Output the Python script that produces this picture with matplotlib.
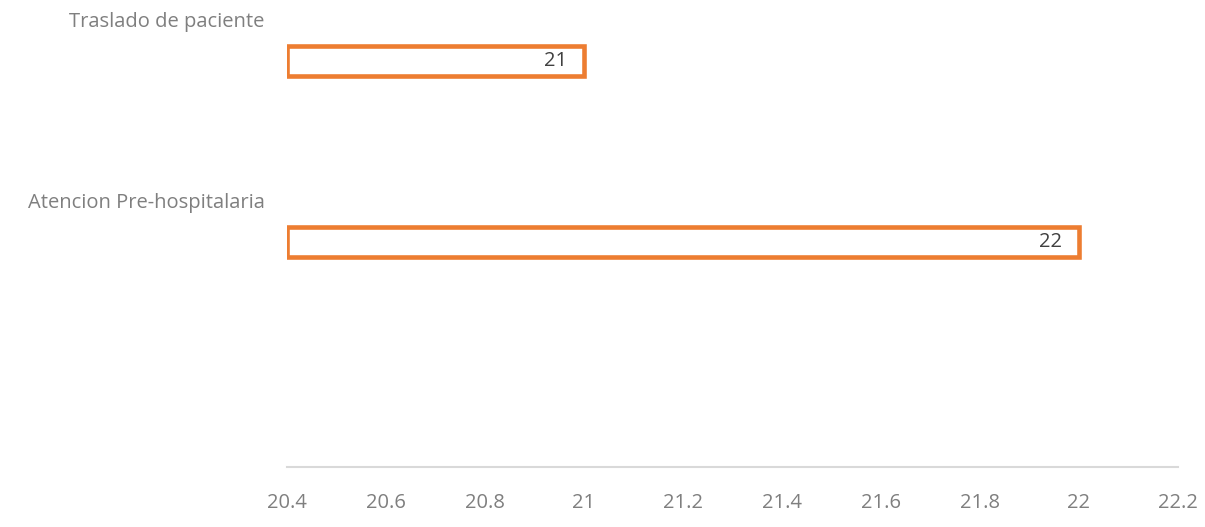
import numpy as np
import matplotlib
matplotlib.use("Agg")
import matplotlib.pyplot as plt
from matplotlib.transforms import blended_transform_factory, offset_copy

categories = ["Traslado de paciente", "Atencion Pre-hospitalaria"]
values = [21, 22]
x_ticks = [20.4, 20.6, 20.8, 21.0, 21.2, 21.4, 21.6, 21.8, 22.0, 22.2]
tick_labels = ["20.4", "20.6", "20.8", "21", "21.2", "21.4", "21.6", "21.8", "22", "22.2"]
x_min, x_max = 20.4, 22.2

plt.rcParams["font.family"] = ["Open Sans", "DejaVu Sans"]
ORANGE = "#ed7d31"
GRAY = "#7f7f7f"
FS = 14.5

W, H, DPI = 1205, 527, 100
fig = plt.figure(figsize=(W / DPI, H / DPI), dpi=DPI)
left, right, bottom, top = 287, 1178, 467, 10      # axes box in pixels
ax = fig.add_axes([left / W, 1 - bottom / H, (right - left) / W, (bottom - top) / H])

y = np.arange(len(categories))
ax.barh(y, np.array(values) - x_min, left=x_min, height=0.163,
        facecolor="white", edgecolor=ORANGE, linewidth=3.3)

ax.set_xlim(x_min, x_max)
ax.set_ylim(2.243, -0.282)

# category labels sit above each bar, right-aligned left of the plot
trans = blended_transform_factory(ax.transAxes, ax.transData)
for yi, name in zip(y, categories):
    ax.text(-0.025, yi - 0.215, name, transform=trans, ha="right", va="center",
            fontsize=FS, color=GRAY)

# value labels inside the bar end
for yi, v in zip(y, values):
    t = offset_copy(ax.transData, fig=fig, x=-17, y=0, units="dots")
    ax.text(v, yi, f"{v:g}", transform=t, ha="right", va="center",
            fontsize=FS, color="#404040")

ax.set_xticks(x_ticks)
ax.set_xticklabels(tick_labels, fontsize=FS, color=GRAY)
ax.tick_params(axis="x", length=0, pad=19)
ax.set_yticks([])
for s in ["top", "right", "left"]:
    ax.spines[s].set_visible(False)
ax.spines["bottom"].set_color("#d9d9d9")
ax.spines["bottom"].set_linewidth(1.5)

fig.savefig("out.png", dpi=DPI)
